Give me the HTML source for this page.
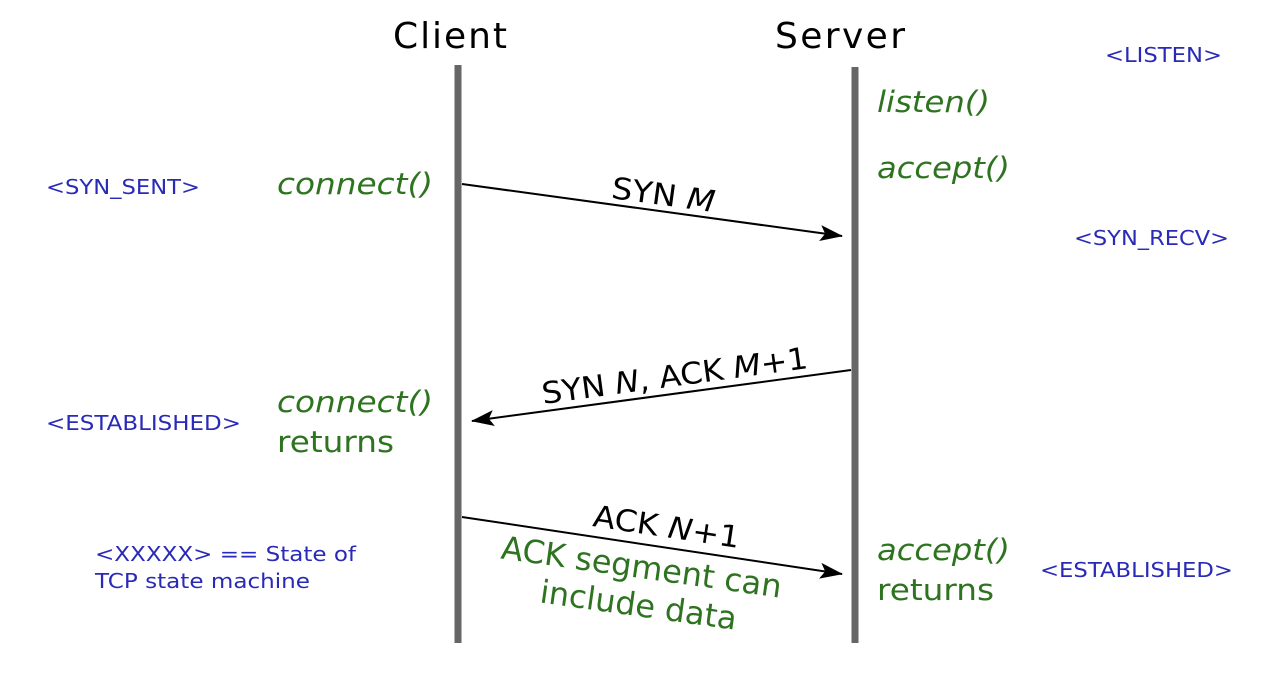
<!DOCTYPE html>
<html><head><meta charset="utf-8"><style>html,body{margin:0;padding:0;background:#fff}</style></head>
<body>
<svg width="1270" height="668" viewBox="0 0 1270 668" xmlns="http://www.w3.org/2000/svg" font-family="DejaVu Sans, Liberation Sans, sans-serif">
<defs><marker id="a" markerWidth="24" markerHeight="18" refX="22" refY="9" orient="auto" markerUnits="userSpaceOnUse"><path d="M0,1 L23,9 L0,17 L5,9 z" fill="#000"/></marker></defs>
<rect width="1270" height="668" fill="#fff"/>
<text x="450" y="48" font-size="36" text-anchor="middle" textLength="114">Client</text>
<text x="840" y="48" font-size="36" text-anchor="middle" textLength="130">Server</text>
<line x1="458" y1="65" x2="458" y2="643" stroke="#666" stroke-width="7"/>
<line x1="855" y1="67" x2="855" y2="643" stroke="#666" stroke-width="7"/>
<line x1="462" y1="184" x2="842" y2="236" stroke="#000" stroke-width="2" marker-end="url(#a)"/>
<line x1="851" y1="370" x2="472" y2="421" stroke="#000" stroke-width="2" marker-end="url(#a)"/>
<line x1="462" y1="517" x2="842" y2="574" stroke="#000" stroke-width="2" marker-end="url(#a)"/>
<g font-size="30">
<text transform="translate(662,205) rotate(7.8)" text-anchor="middle" textLength="104" lengthAdjust="spacingAndGlyphs">SYN <tspan font-style="italic">M</tspan></text>
<text transform="translate(676,386) rotate(-7.7)" text-anchor="middle" textLength="268" lengthAdjust="spacingAndGlyphs">SYN <tspan font-style="italic">N</tspan>, ACK <tspan font-style="italic">M</tspan>+1</text>
<text transform="translate(665,537) rotate(8.5)" text-anchor="middle" textLength="148" lengthAdjust="spacingAndGlyphs">ACK <tspan font-style="italic">N</tspan>+1</text>
</g>
<g fill="#2e7320" font-size="29">
<text transform="translate(640,578) rotate(8)" text-anchor="middle" font-size="32">ACK segment can</text>
<text transform="translate(637,616) rotate(8)" text-anchor="middle" font-size="32">include data</text>
<text x="277" y="194" font-style="italic" textLength="156" lengthAdjust="spacingAndGlyphs">connect()</text>
<text x="277" y="412" font-style="italic" textLength="156" lengthAdjust="spacingAndGlyphs">connect()</text>
<text x="277" y="452" textLength="117" lengthAdjust="spacingAndGlyphs">returns</text>
<text x="877" y="112" font-style="italic" textLength="113" lengthAdjust="spacingAndGlyphs">listen()</text>
<text x="877" y="178" font-style="italic" textLength="133" lengthAdjust="spacingAndGlyphs">accept()</text>
<text x="877" y="560" font-style="italic" textLength="133" lengthAdjust="spacingAndGlyphs">accept()</text>
<text x="877" y="600" textLength="117" lengthAdjust="spacingAndGlyphs">returns</text>
</g>
<g fill="#2a2ab8" font-size="20">
<text x="1105" y="62" textLength="117" lengthAdjust="spacingAndGlyphs">&lt;LISTEN&gt;</text>
<text x="46" y="194" textLength="154" lengthAdjust="spacingAndGlyphs">&lt;SYN_SENT&gt;</text>
<text x="1074" y="245" textLength="155" lengthAdjust="spacingAndGlyphs">&lt;SYN_RECV&gt;</text>
<text x="46" y="430" textLength="195" lengthAdjust="spacingAndGlyphs">&lt;ESTABLISHED&gt;</text>
<text x="1040" y="577" textLength="193" lengthAdjust="spacingAndGlyphs">&lt;ESTABLISHED&gt;</text>
<text x="95" y="561" textLength="261" lengthAdjust="spacingAndGlyphs">&lt;XXXXX&gt; == State of</text>
<text x="95" y="588" textLength="215" lengthAdjust="spacingAndGlyphs">TCP state machine</text>
</g>
</svg>
</body></html>
